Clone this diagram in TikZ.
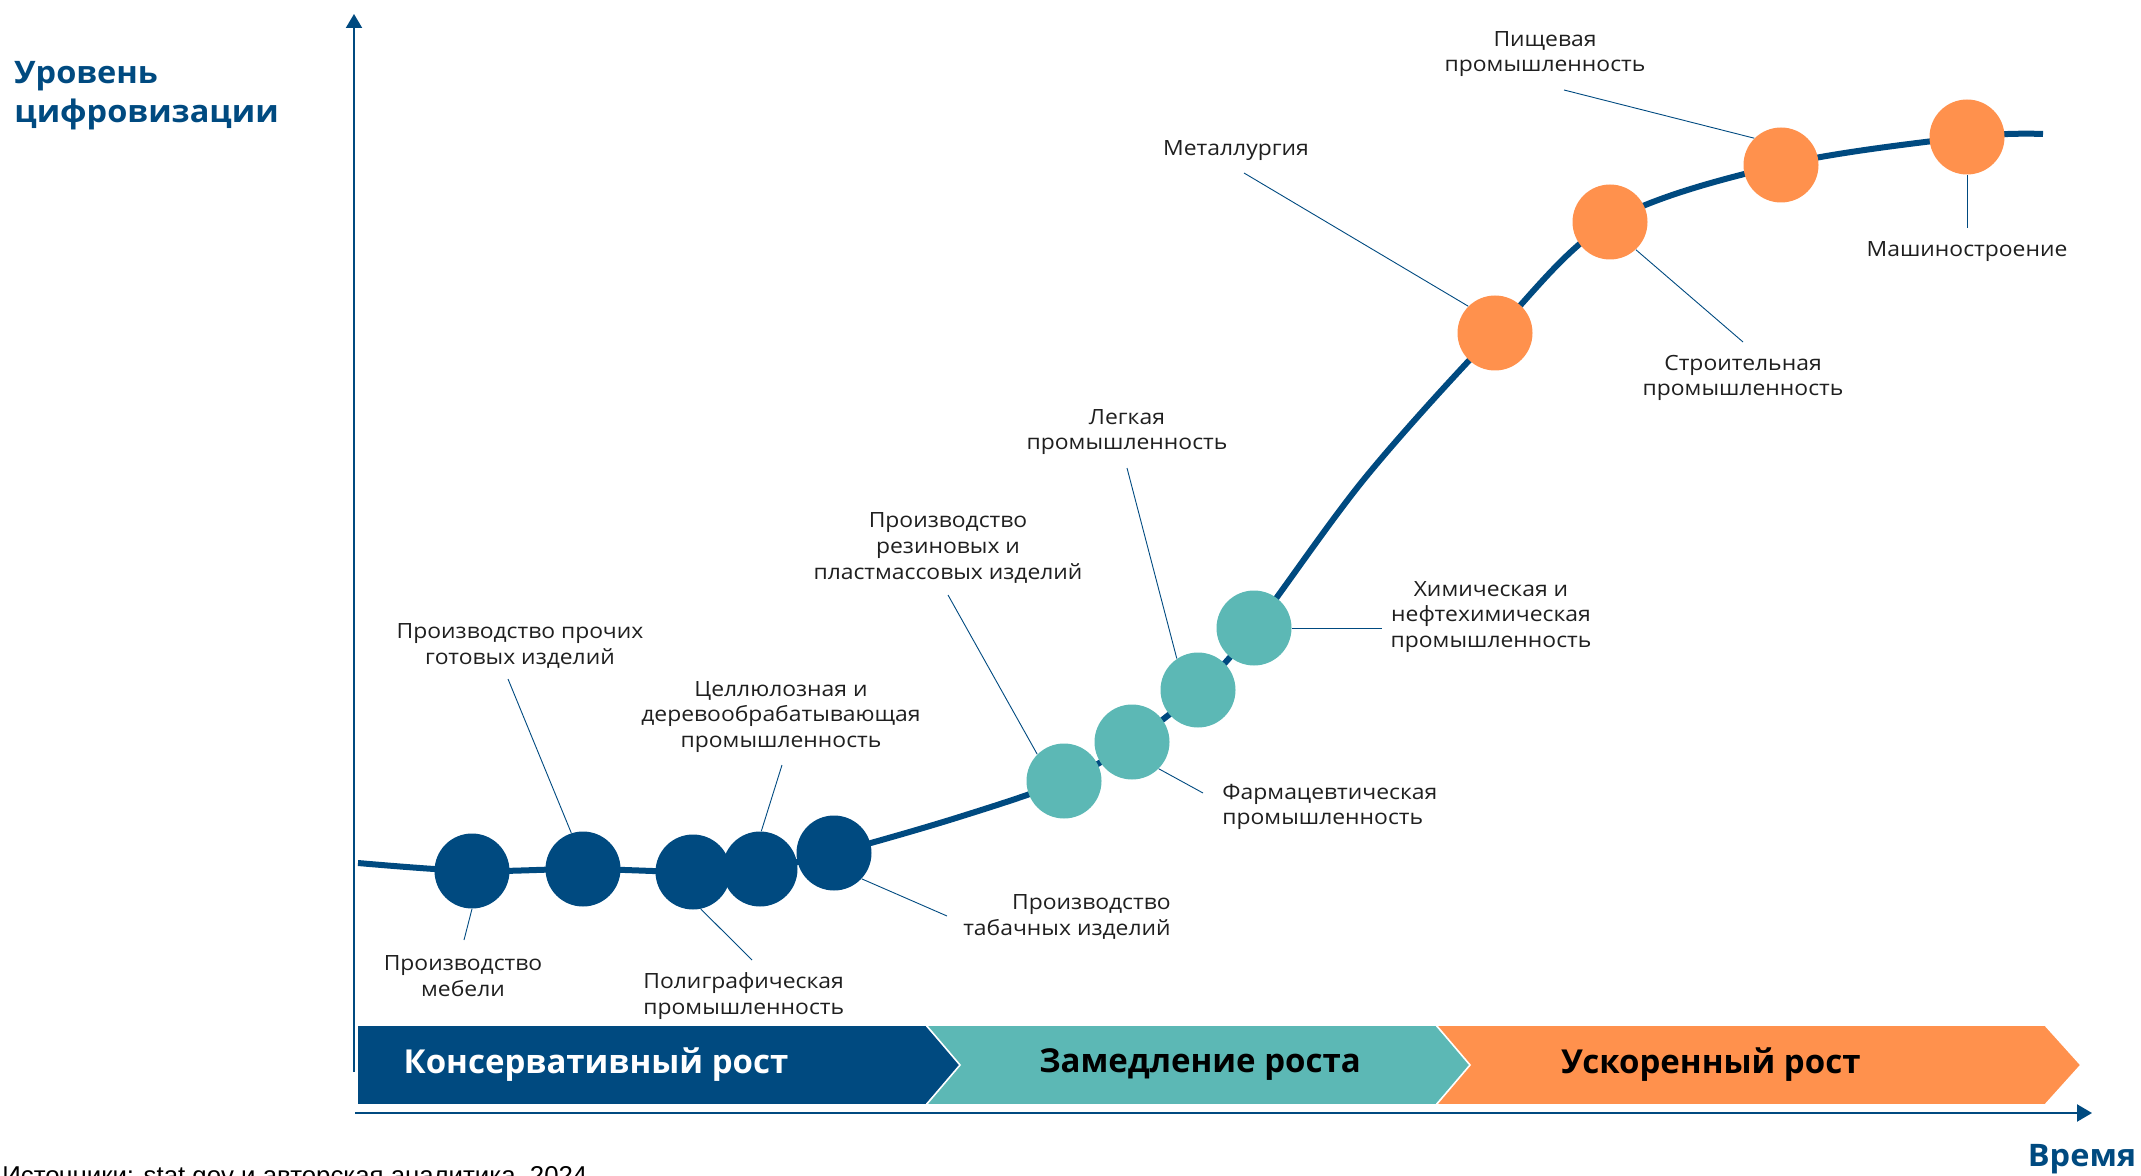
\documentclass[tikz,border=0pt]{standalone}
\usepackage{fontspec}
\setmainfont{Open Sans}
\newfontfamily\lblfont[FakeStretch=1.09]{Open Sans}
\newfontfamily\headfont[FakeStretch=1.05]{Open Sans}
\newfontfamily\srcfont{Liberation Sans}
\usetikzlibrary{arrows.meta}
\definecolor{navy}{RGB}{0,74,128}
\definecolor{sea}{RGB}{92,184,181}
\definecolor{coral}{RGB}{255,145,77}
\tikzset{
  bead/.style={circle, fill=#1, minimum size=37.5pt, inner sep=0pt},
  lead/.style={navy, line width=0.45pt},
  lbl/.style={font=\lblfont\fontsize{10.5}{12.8}\selectfont, text=black!88, inner sep=0pt, align=center},
  head/.style={font=\headfont\fontsize{15.5}{19.5}\selectfont\bfseries, text=navy, inner sep=0pt},
  phase/.style={font=\fontsize{16.5}{20}\selectfont\bfseries, inner sep=0pt}
}
\begin{document}
\begin{tikzpicture}[x=0.5pt,y=-0.5pt]
\useasboundingbox (0,0) rectangle (2141,1176);
\coordinate (ybot) at (354,1072);
\coordinate (ytip) at (354,14);
\coordinate (o) at (355,1113);
\coordinate (xtip) at (2092,1113);
\draw [navy, line width=1pt, -{Triangle[length=7pt,width=8pt]}] (ybot)--(ytip);
\draw [navy, line width=1.1pt, -{Triangle[length=7.5pt,width=8.5pt]}] (o)--(xtip);
\node [head, align=left, anchor=west] (ylab) at (14,96) {Уровень\\цифровизации};
\node [head] (xlab) at (2082,1159) {Время};
\node [font=\srcfont\fontsize{12.9}{15}\selectfont, inner sep=0pt, anchor=base west] (src) at (2,1184) {Источники: stat.gov и авторская аналитика, 2024};
\foreach \xa/\xb/\n/\col in {357/926/0/navy, 926/1436/34/sea, 1436/2045/34/coral}
  {\filldraw [fill=\col, draw=white, line width=0.8pt] (\xa,1025)--(\xb,1025)--(\xb+36,1065)--(\xb,1105)--(\xa,1105)--(\xa+\n,1065)--cycle;}
\node [phase, text=white] (ph1) at (596,1065) {Консервативный рост};
\node [phase] (ph2) at (1200,1065) {Замедление роста};
\node [phase] (ph3) at (1711,1065) {Ускоренный рост};
\draw [navy, line width=3pt] plot [smooth, tension=0.55] coordinates {(358,863) (472,871) (583,869) (693,872) (760,869) (834,853) (956,818) (1064,781) (1132,742) (1198,690) (1254,628) (1365,478) (1495,333) (1610,222) (1781,165) (1967,137) (2043,134)};
\foreach \x/\y/\col [count=\i] in {472/871/navy, 583/869/navy, 693/872/navy, 760/869/navy, 834/853/navy, 1064/781/sea, 1132/742/sea, 1198/690/sea, 1254/628/sea, 1495/333/coral, 1610/222/coral, 1781/165/coral, 1967/137/coral}
  {\node [bead=\col] (b\i) at (\x,\y) {};}
\foreach \i/\a/\x/\y in {1/-90/464/940, 2/108/508/679, 3/-78/752/960, 4/88/782/765, 5/-43/947/916, 6/135/948/595, 7/-45/1203/793, 8/124/1127/468, 9/0/1382/628, 10/135/1244/173, 11/-47/1743/342, 12/135/1564/90, 13/-90/1967/228}
  {\coordinate (e\i) at (\x,\y); \draw [lead] (b\i.\a)--(e\i);}
\node [lbl] (mebel) at (463,976) {Производство\\мебели};
\node [lbl] (prochie) at (520,646) {Производство прочих\\готовых изделий};
\node [lbl] (cellul) at (781,717) {Целлюлозная и\\деревообрабатывающая\\промышленность};
\node [lbl, align=left, anchor=west] (poligr) at (643,996) {Полиграфическая\\промышленность};
\node [lbl, align=right, anchor=east] (tabak) at (1171,917) {Производство\\табачных изделий};
\node [lbl] (rezin) at (948,548) {Производство\\резиновых и\\пластмассовых изделий};
\node [lbl] (legk) at (1127,432) {Легкая\\промышленность};
\node [lbl] (himia) at (1491,617) {Химическая и\\нефтехимическая\\промышленность};
\node [lbl, align=left, anchor=west] (farm) at (1222,807) {Фармацевтическая\\промышленность};
\node [lbl] (metall) at (1236,151) {Металлургия};
\node [lbl] (pisch) at (1545,54) {Пищевая\\промышленность};
\node [lbl] (stroit) at (1743,378) {Строительная\\промышленность};
\node [lbl] (mash) at (1967,252) {Машиностроение};
\end{tikzpicture}
\end{document}
